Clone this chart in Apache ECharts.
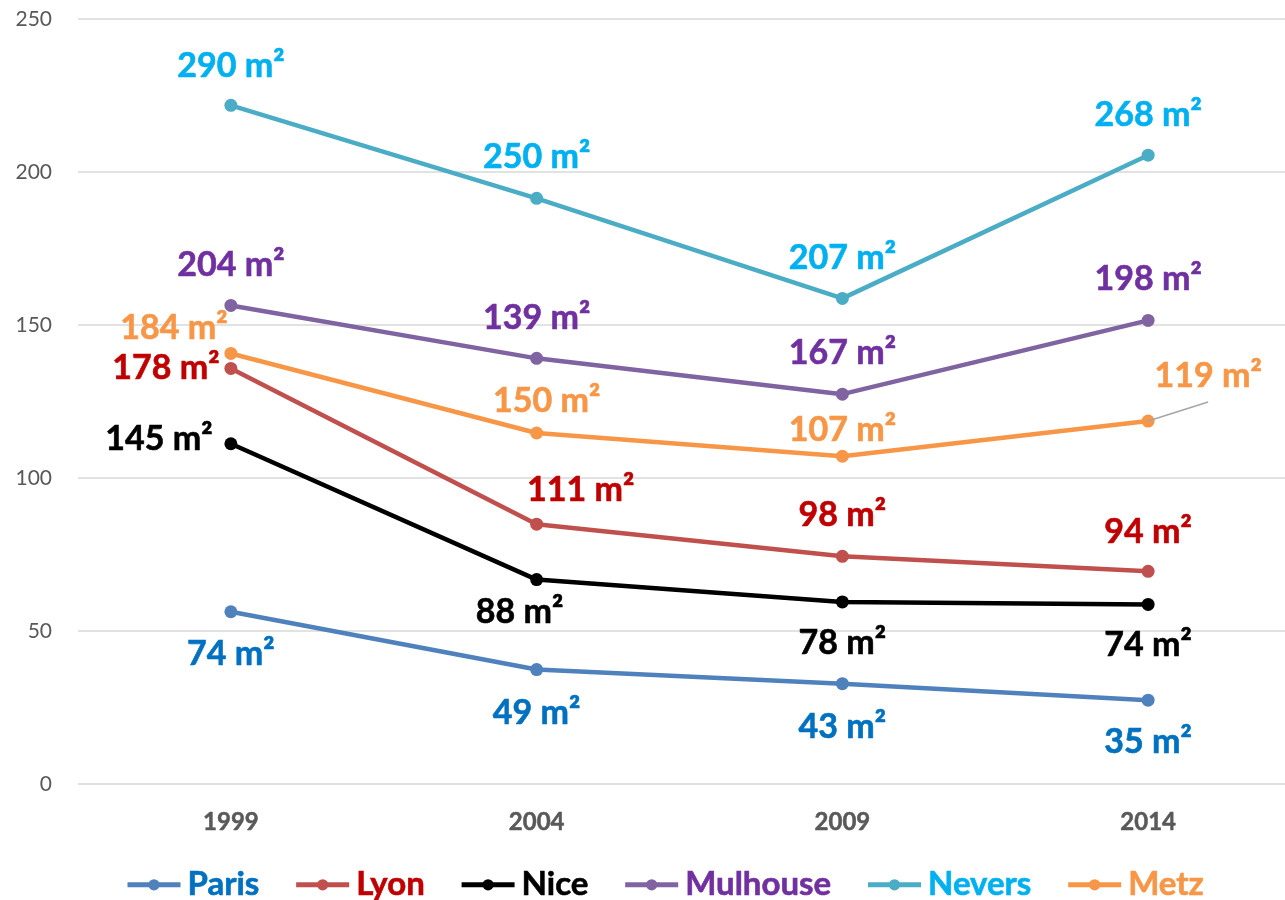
<!DOCTYPE html>
<html lang="fr">
<head>
<meta charset="utf-8">
<title>Surface par ville</title>
<script src="https://cdn.jsdelivr.net/npm/echarts@6/dist/echarts.min.js"></script>
<style>
  html, body { margin: 0; padding: 0; background: #ffffff; }
  #chart { width: 1285px; height: 900px; }
</style>
</head>
<body>
<div id="chart"></div>
<script>
// Years on the category axis
const years = ['1999', '2004', '2009', '2014'];
const cities = ['Paris', 'Lyon', 'Nice', 'Mulhouse', 'Nevers', 'Metz'];
const yTicks = [0, 50, 100, 150, 200, 250];

// Plotted values (axis units)
const parisValues    = [56.3, 37.4, 32.8, 27.4];
const lyonValues     = [135.8, 84.9, 74.4, 69.5];
const niceValues     = [111.2, 66.8, 59.5, 58.7];
const mulhouseValues = [156.4, 139.1, 127.4, 151.5];
const neversValues   = [221.8, 191.4, 158.7, 205.5];
const metzValues     = [140.7, 114.7, 107.1, 118.6];

// Surface figures shown next to each point (m²)
const parisAreas    = [74, 49, 43, 35];
const lyonAreas     = [178, 111, 98, 94];
const niceAreas     = [145, 88, 78, 74];
const mulhouseAreas = [204, 139, 167, 198];
const neversAreas   = [290, 250, 207, 268];
const metzAreas     = [184, 150, 107, 119];

// Styling and label placement (pixel shift of each label centre from its point)
const lineColors  = ['#4F81BD', '#C0504D', '#000000', '#8064A2', '#4BACC6', '#F79646'];
const labelColors = ['#0070C0', '#C00000', '#000000', '#7030A0', '#00B0F0', '#F79646'];
const labelShifts = [
  [[0, 42], [0, 43], [0, 43], [0, 42]],
  [[-65, 0], [44, -34], [0, -41], [0, -39]],
  [[-72, -5], [-17, 32], [0, 41], [0, 41]],
  [[0, -40], [0, -40], [0, -41], [0, -41]],
  [[0, -39], [0, -41], [0, -40], [0, -40]],
  [[-57, -25], [10, -32], [0, -26], [60, -45]]
];

const valueSets = [parisValues, lyonValues, niceValues, mulhouseValues, neversValues, metzValues];
const areaSets  = [parisAreas, lyonAreas, niceAreas, mulhouseAreas, neversAreas, metzAreas];
const FONT = 'Lato, "Open Sans", sans-serif';

const lineSeries = cities.map((city, s) => ({
  name: city,
  type: 'line',
  data: valueSets[s],
  symbol: 'circle',
  symbolSize: 13,
  lineStyle: { color: lineColors[s], width: 4.5 },
  itemStyle: { color: lineColors[s] },
  z: 3,
  label: {
    show: true,
    position: 'inside',
    formatter: (p) => areaSets[s][p.dataIndex] + ' m²',
    color: labelColors[s],
    fontFamily: FONT,
    fontWeight: 'bold',
    fontSize: 34,
    textBorderColor: labelColors[s],
    textBorderWidth: 0.6
  },
  labelLayout: (p) => ({
    dx: labelShifts[s][p.dataIndex][0],
    dy: labelShifts[s][p.dataIndex][1]
  })
}));

// Thin leader from the last Metz point to its label
const metzLeader = {
  type: 'custom',
  name: 'metz-leader',
  silent: true,
  z: 5,
  data: [[3, metzValues[3]]],
  renderItem: (params, api) => {
    const p = api.coord([api.value(0), api.value(1)]);
    return {
      type: 'line',
      shape: { x1: p[0], y1: p[1], x2: p[0] + 60, y2: p[1] - 19 },
      style: { stroke: '#A6A6A6', lineWidth: 1.5 }
    };
  }
};

const chart = echarts.init(document.getElementById('chart'), null, { renderer: 'canvas' });
chart.setOption({
  animation: false,
  backgroundColor: '#ffffff',
  grid: { left: 78, top: 19, width: 1223, bottom: 116, containLabel: false, outerBoundsMode: 'none' },
  xAxis: {
    type: 'category',
    data: years,
    boundaryGap: true,
    axisLine: { show: false },
    axisTick: { show: false },
    axisLabel: {
      color: '#595959',
      fontFamily: FONT,
      fontWeight: 'bold',
      fontSize: 24,
      margin: 26,
      textBorderColor: '#595959',
      textBorderWidth: 0.5
    }
  },
  yAxis: {
    type: 'value',
    min: yTicks[0],
    max: yTicks[yTicks.length - 1],
    interval: yTicks[1] - yTicks[0],
    axisLine: { show: false },
    axisTick: { show: false },
    splitLine: { lineStyle: { color: '#D9D9D9', width: 1.5 } },
    axisLabel: {
      color: '#595959',
      fontFamily: FONT,
      fontSize: 21,
      margin: 26
    }
  },
  legend: {
    data: cities.map((c, s) => ({
      name: c,
      textStyle: { color: labelColors[s], textBorderColor: labelColors[s] }
    })),
    left: 120,
    top: 863,
    itemWidth: 53,
    itemHeight: 14,
    itemGap: 34,
    lineStyle: { width: 5 },
    textStyle: {
      fontFamily: FONT,
      fontWeight: 'bold',
      fontSize: 33,
      textBorderWidth: 0.6,
      padding: [0, 0, 0, 2]
    }
  },
  series: [...lineSeries, metzLeader]
});
</script>
</body>
</html>
